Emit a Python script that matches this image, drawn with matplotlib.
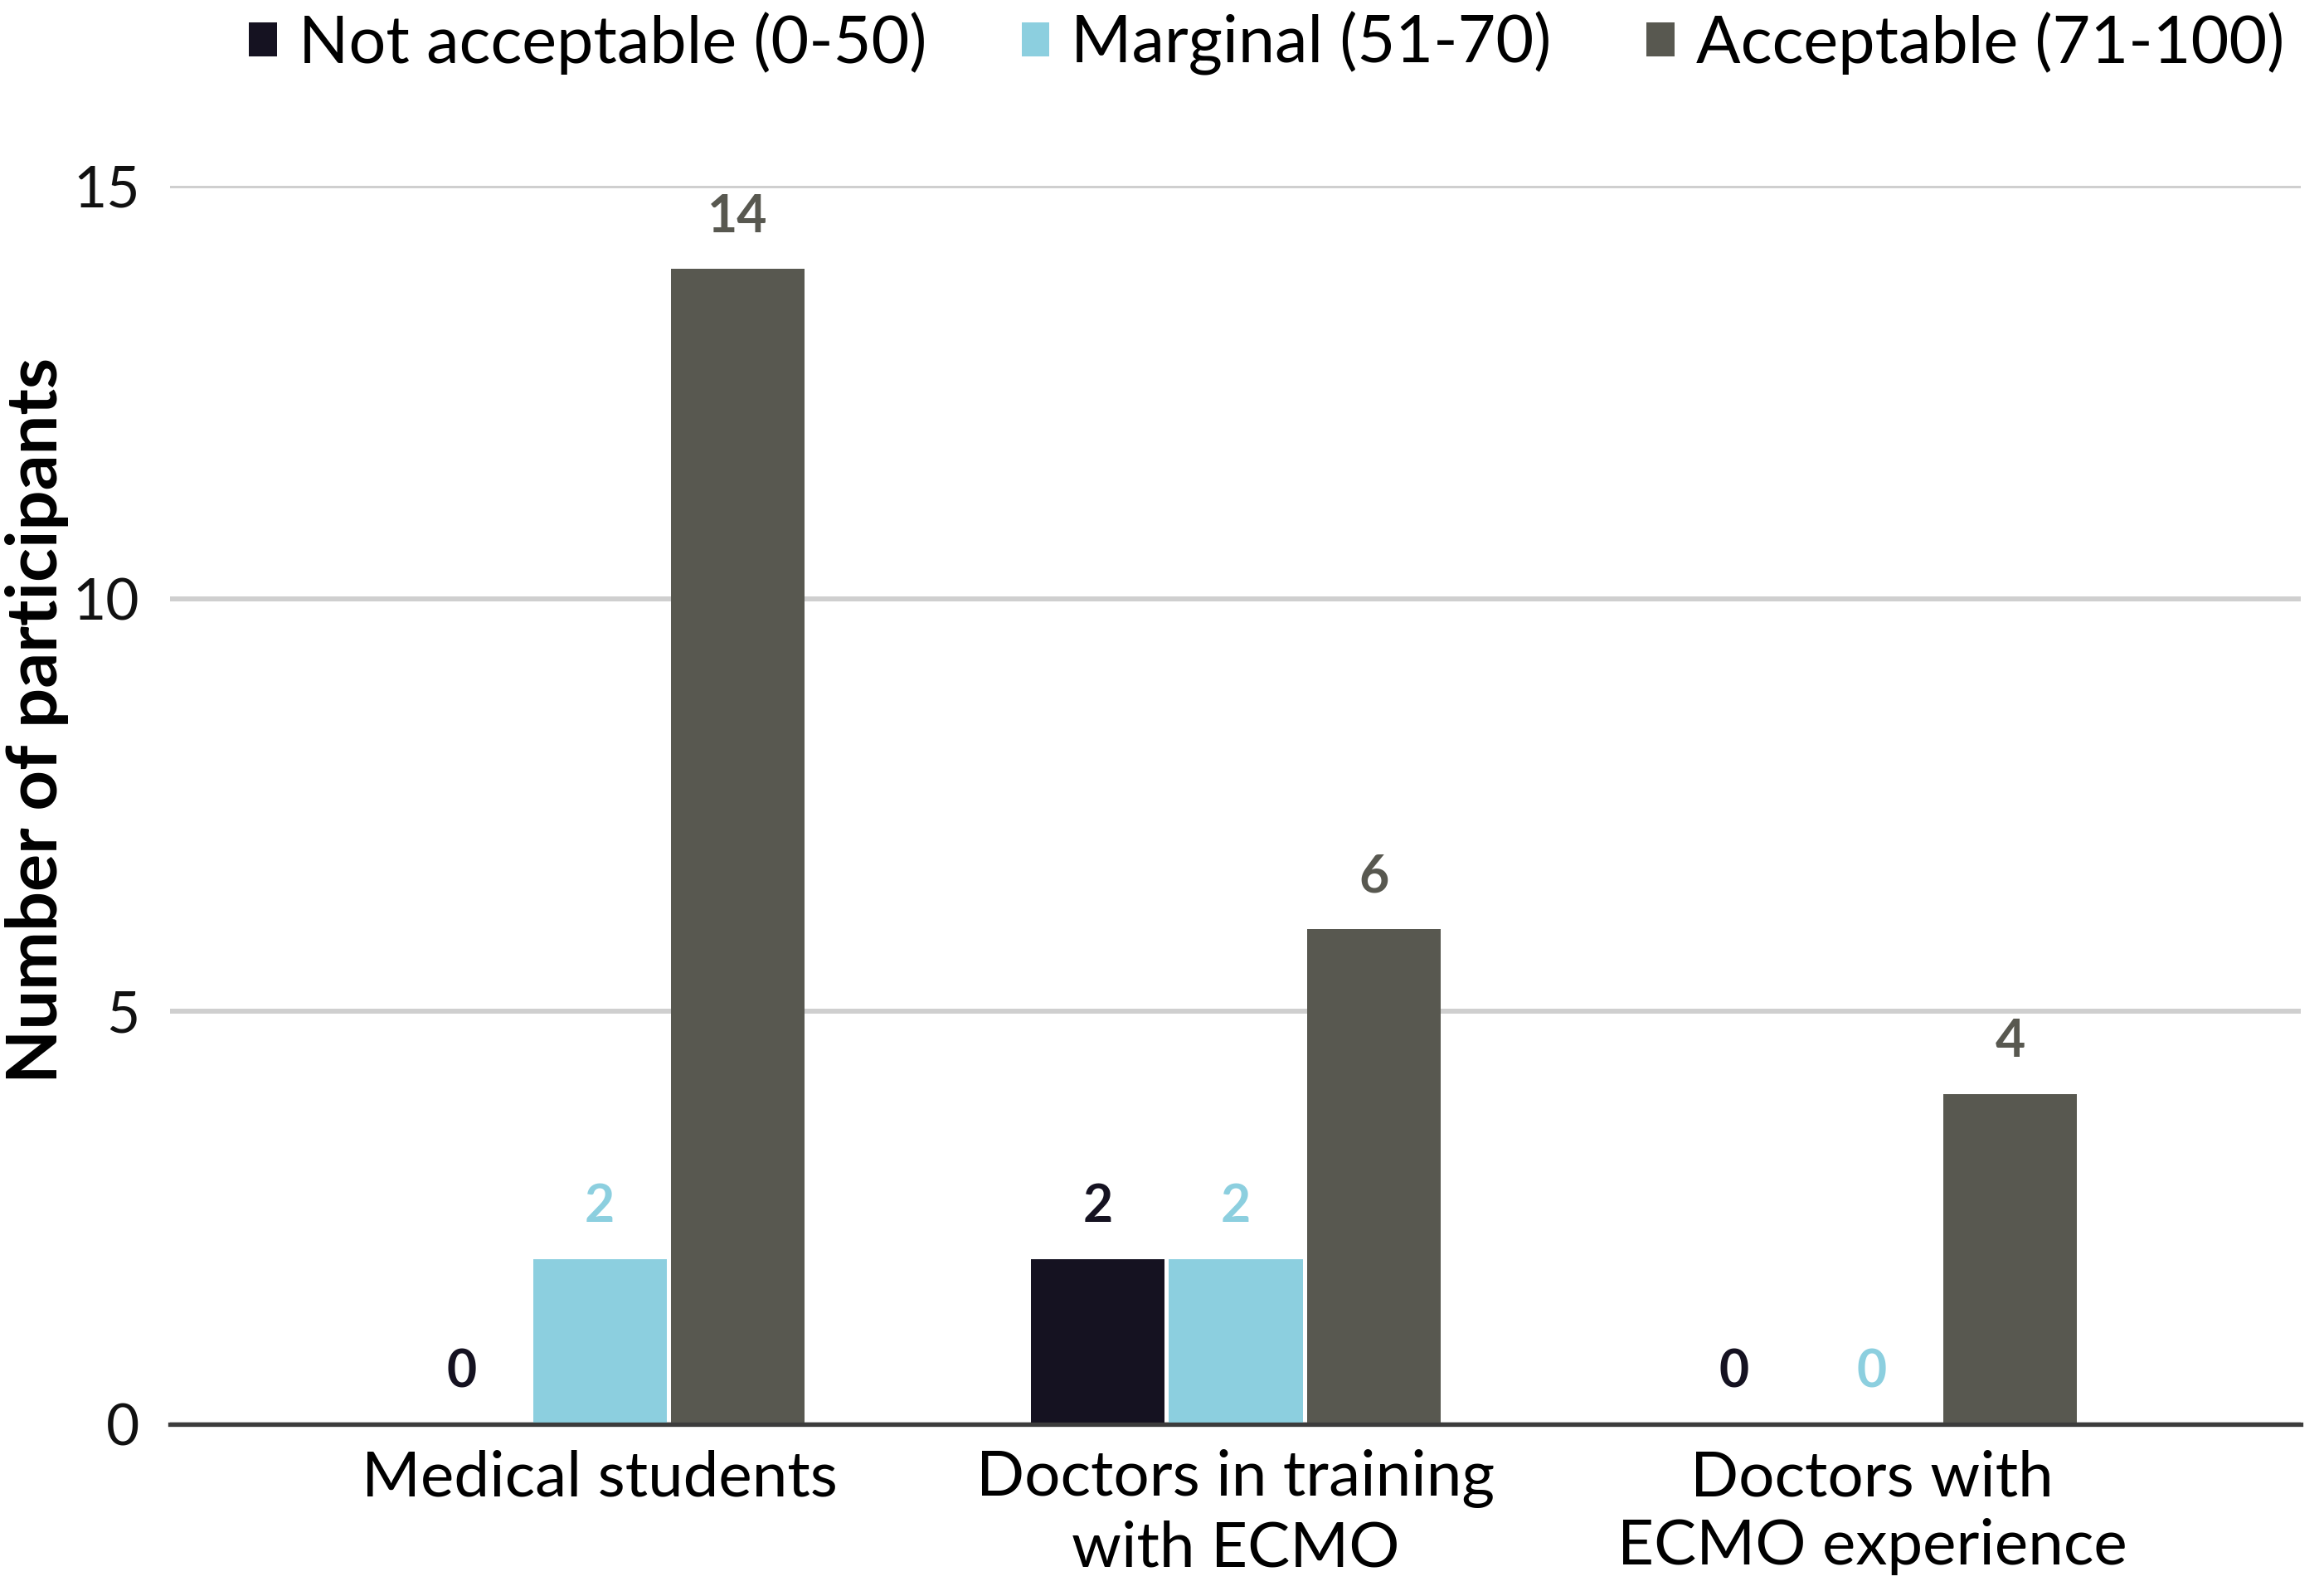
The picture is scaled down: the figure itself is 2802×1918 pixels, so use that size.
import numpy as np
from matplotlib import pyplot as plt

plt.rcParams['font.family'] = ['Lato', 'DejaVu Sans']

groups = ["Medical students", "Doctors in training\nwith ECMO", "Doctors with\nECMO experience"]
series = ["Not acceptable (0-50)", "Marginal (51-70)", "Acceptable (71-100)"]
not_acceptable = [0, 2, 0]
marginal = [2, 2, 0]
acceptable = [14, 6, 4]
colors = ["#151221", "#8ccfdf", "#585850"]

fig = plt.figure(figsize=(28.02, 19.18), dpi=100)
ax = fig.add_axes([0.073, 0.105, 0.917, 0.778])

x = np.arange(len(groups))
width = 0.21
step = 0.217

for i, (name, vals) in enumerate(zip(series, [not_acceptable, marginal, acceptable])):
    pos = x + (i - 1) * step
    ax.bar(pos, vals, width, color=colors[i], label=name, zorder=3)
    for px, v in zip(pos, vals):
        ax.annotate(str(v), (px, v), xytext=(0, 24), textcoords="offset points",
                    ha="center", va="bottom", fontsize=45, fontweight="bold",
                    color=colors[i])

ax.set_ylim(0, 15)
ax.set_xlim(-0.676, 2.674)
ax.set_yticks([0, 5, 10, 15])
ax.yaxis.grid(True, color="#cfcfcf", linewidth=4.3, zorder=0)
ax.set_axisbelow(True)
for s in ["top", "right", "left"]:
    ax.spines[s].set_visible(False)
ax.spines["bottom"].set_color("#3c3c3c")
ax.spines["bottom"].set_linewidth(3.8)
ax.spines["bottom"].set_zorder(4)

ax.set_xticks(x)
ax.set_xticklabels(groups, fontsize=55, linespacing=1.25)
ax.tick_params(axis="x", length=0, pad=22)
ax.tick_params(axis="y", length=0, pad=26, labelsize=50, labelcolor="#111111")

fig.text(0.016, 0.547, "Number of participants", rotation=90, ha="center", va="center",
         fontsize=61, fontweight="bold")

fig.legend(loc="upper center", bbox_to_anchor=(0.545, 1.03), ncol=3, frameon=False,
           fontsize=57, handlelength=0.42, handleheight=0.42, handletextpad=0.33,
           columnspacing=1.45)

fig.savefig("out.png", dpi=100)
